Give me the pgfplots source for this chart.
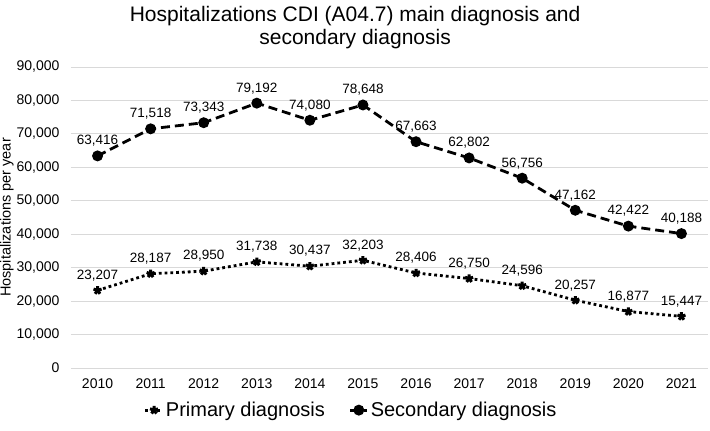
\documentclass[border=0pt]{standalone}
\usepackage{pgfplots}
\pgfplotsset{compat=1.18}
\usepackage{fontspec}
\setmainfont{Liberation Sans}
\begin{document}
\begin{tikzpicture}
\useasboundingbox (-71pt,-63pt) rectangle (639pt,368pt);
\begin{axis}[
  at={(0,0)}, anchor=south west,
  scale only axis,
  width=637pt, height=301pt,
  xmin=-0.5, xmax=11.5,
  ymin=0, ymax=90000,
  ytick={0,10000,...,90000},
  xtick={0,...,11},
  xticklabels={2010,2011,2012,2013,2014,2015,2016,2017,2018,2019,2020,2021},
  axis line style={draw=none},
  major tick length=0pt,
  ymajorgrids,
  grid style={gray!30, line width=0.8pt},
  tick label style={font=\fontsize{14}{15}\selectfont},
  /pgf/number format/assume math mode=true,
  /pgf/number format/.cd, fixed, 1000 sep={,}, /pgfplots/.cd,
  scaled y ticks=false,
  yticklabel style={anchor=east, xshift=-8pt},
  xticklabel style={anchor=north, yshift=-7pt},
  ylabel={Hospitalizations per year},
  every axis y label/.style={at={(axis description cs:-0.1005,0.5)}, rotate=90, anchor=center, font=\fontsize{14.5}{16}\selectfont},
  title={Hospitalizations CDI (A04.7) main diagnosis and\\secondary diagnosis},
  title style={font=\fontsize{21}{23}\selectfont, align=center, inner sep=0pt, at={(axis description cs:0.446,1)}, anchor=south, yshift=12pt},
  legend style={draw=none, at={(axis description cs:0.44,-0.14)}, anchor=center, font=\fontsize{20}{22}\selectfont, /tikz/every even column/.append style={column sep=22pt}},
  legend columns=2,
  legend cell align=left,
  nodes near coords,
  every node near coord/.append style={font=\fontsize{13.5}{15}\selectfont, anchor=south, inner sep=0pt, yshift=8pt, /pgf/number format/assume math mode=true},
  clip=false,
]
\addplot[black, line width=2.8pt, dash pattern=on 2.8pt off 3pt, mark=star, mark size=4.2pt, mark options={solid, line width=3pt}] coordinates {
  (0,23207) (1,28187) (2,28950) (3,31738) (4,30437) (5,32203)
  (6,28406) (7,26750) (8,24596) (9,20257) (10,16877) (11,15447)
};
\addlegendentry{Primary diagnosis}
\addplot[black, line width=2.8pt, dash pattern=on 9pt off 5pt, mark=*, mark size=4pt, mark options={solid}] coordinates {
  (0,63416) (1,71518) (2,73343) (3,79192) (4,74080) (5,78648)
  (6,67663) (7,62802) (8,56756) (9,47162) (10,42422) (11,40188)
};
\addlegendentry{Secondary diagnosis}
\end{axis}
\end{tikzpicture}
\end{document}
